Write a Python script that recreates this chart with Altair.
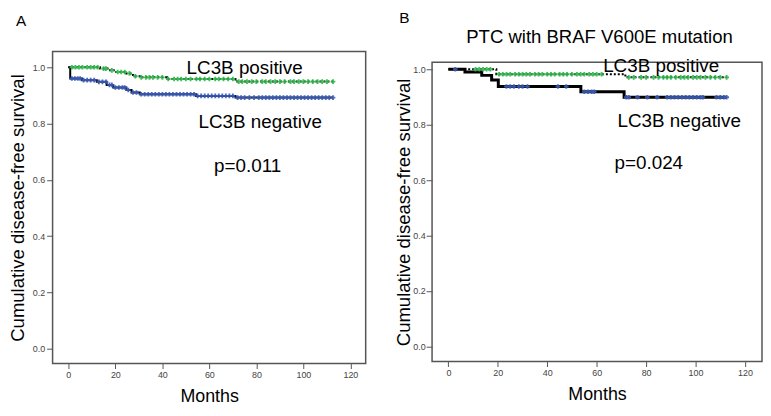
import altair as alt
import pandas as pd

# ---------------- data ----------------
# Panel A: step curves (time in months, cumulative survival)
a_neg_t = [0, 0.8, 5.8, 12.1, 16.3, 19.1, 24.7, 26.9, 30.4, 54.3, 71.1, 112.6]
a_neg_s = [1.0, 0.96, 0.954, 0.948, 0.937, 0.928, 0.919, 0.910, 0.904, 0.898, 0.892, 0.892]
a_pos_t = [0, 13.5, 17.7, 19.8, 24.7, 27.5, 30.4, 42.0, 71.1, 112.6]
a_pos_s = [1.0, 0.995, 0.989, 0.983, 0.978, 0.968, 0.964, 0.958, 0.949, 0.949]
# censor marks
a_neg_c = [1.5, 2.8, 4, 5, 6.5, 8, 9.5, 11, 13, 14.5, 16, 17.5, 18.5, 20, 21.5, 23, 24, 25.5,
           27.5, 29, 31, 32.5, 34, 35.5, 37, 38.5, 40, 41.5, 43, 44.5, 46, 47.5, 49, 50.5, 52,
           53.5, 55, 56.5, 58, 59.5, 61, 62.5, 64, 65.5, 67, 68.5, 70, 72, 73.5, 75, 77, 79,
           81, 82.5, 84, 85.5, 87, 88.5, 90, 91.5, 93, 94.5, 96, 97.5, 99, 100.5, 102, 103.5,
           105, 106.5, 108, 109.5, 111, 112.6]
a_pos_c = [1.5, 3, 4.5, 6, 8, 9.5, 11, 12.5, 15, 16, 18.5, 21, 22.5, 24, 26, 28.5, 31, 33,
           34.5, 36, 38, 40, 42.5, 45, 46.5, 48, 50, 52, 54.5, 56, 58, 60, 62.5, 64, 66, 68,
           70, 72.5, 74, 76, 78, 80, 82.5, 84, 86, 88, 90, 92, 94.5, 96, 98, 100, 102, 104,
           106, 108, 110, 112.6]

# Panel B
b_neg_t = [0, 6.7, 13.5, 17.5, 20.2, 53.6, 71.1, 112.6]
b_neg_s = [1.0, 0.99, 0.978, 0.961, 0.938, 0.919, 0.899, 0.899]
b_pos_t = [0, 19.4, 71.6, 112.6]
b_pos_s = [1.0, 0.982, 0.971, 0.971]
b_neg_c = [2.8, 23.5, 25, 26.5, 28.5, 30, 32, 44.3, 47.7, 55, 56.5, 58, 59, 72, 73, 76.5,
           80.5, 84.5, 88.5, 90, 91.5, 93, 94.5, 96, 97.5, 99, 100.5, 102, 103, 108.5, 110,
           111.5, 112.6]
b_pos_c = [11, 12.5, 14, 15.5, 17, 20.5, 22, 23.5, 25, 27, 28.5, 30, 31.5, 33, 35, 36.5, 38,
           40, 41.5, 43, 45, 46.5, 48, 50, 52, 53.5, 55, 57, 58.5, 60, 62, 73, 75, 78, 80,
           83, 85, 87, 88.5, 90, 92, 94, 95.5, 97, 99, 100.5, 102, 104, 106, 108, 110, 112.6]

x_ticks = [0, 20, 40, 60, 80, 100, 120]
y_ticks = [0.0, 0.2, 0.4, 0.6, 0.8, 1.0]

a_labels = ["LC3B positive", "LC3B negative", "p=0.011"]
a_lab_x = [75, 81.6, 76.3]
a_lab_y = [0.975, 0.784, 0.627]
b_labels = ["LC3B positive", "LC3B negative", "p=0.024"]
b_lab_x = [86.1, 93.4, 81.1]
b_lab_y = [0.99, 0.79, 0.64]

FONT = "Liberation Sans"
GREEN = "#2fb54a"
BLUE = "#3a5cb8"
FRAME = "#555"


def step_value(ts, ss, t):
    v = ss[0]
    for ti, si in zip(ts, ss):
        if ti <= t:
            v = si
    return v


def panel(neg_t, neg_s, pos_t, pos_s, neg_c, pos_c, labels, lab_x, lab_y,
          xdom, ydom, w, h, ext, tpad, lpad, title_txt, title_off, title_dx, neg_width,
          extra=None, yrange=None):
    neg = pd.DataFrame({"t": neg_t, "s": neg_s})
    pos = pd.DataFrame({"t": pos_t, "s": pos_s})
    negc = pd.DataFrame({"t": neg_c, "s": [step_value(neg_t, neg_s, c) for c in neg_c]})
    posc = pd.DataFrame({"t": pos_c, "s": [step_value(pos_t, pos_s, c) for c in pos_c]})
    labs = pd.DataFrame({"t": lab_x, "s": lab_y, "label": labels})

    framed = yrange is not None
    xs = alt.Scale(domain=xdom, nice=False, zero=False)
    if framed:
        ys = alt.Scale(domain=ydom, nice=False, zero=False, range=yrange)
    else:
        ys = alt.Scale(domain=ydom, nice=False, zero=False)
    xax = alt.Axis(values=x_ticks, title="Months", grid=False, domain=False,
                   tickSize=5, tickColor=FRAME, labelPadding=2, labelFontSize=9,
                   labelColor="#444", labelFont=FONT, titleFont=FONT, titleFontSize=18,
                   titleFontWeight="normal", titleColor="black", titlePadding=8)
    yax = alt.Axis(values=y_ticks, format=".1f", title="Cumulative disease-free survival",
                   grid=False, domain=False, tickSize=6, tickColor=FRAME,
                   labelPadding=lpad, labelFontSize=9, labelColor="#444", labelFont=FONT,
                   titleFont=FONT, titleFontSize=18.7, titleFontWeight="normal",
                   titleColor="black", titlePadding=tpad, minExtent=ext, maxExtent=ext)

    neg_line = alt.Chart(neg).mark_line(interpolate="step-after", color="black",
                                        strokeWidth=neg_width).encode(
        x=alt.X("t:Q", scale=xs, axis=xax), y=alt.Y("s:Q", scale=ys, axis=yax))
    ex = alt.X("t:Q", scale=xs)
    ey = alt.Y("s:Q", scale=ys)
    pos_line = alt.Chart(pos).mark_line(interpolate="step-after", color="black",
                                        strokeWidth=2, strokeDash=[2, 2]).encode(x=ex, y=ey)
    neg_pts = alt.Chart(negc).mark_point(shape="cross", filled=True, color=BLUE,
                                         size=22, opacity=0.9).encode(x=ex, y=ey)
    pos_pts = alt.Chart(posc).mark_point(shape="cross", filled=True, color=GREEN,
                                         size=22, opacity=0.9).encode(x=ex, y=ey)
    txt = alt.Chart(labs).mark_text(font=FONT, fontSize=19, color="black",
                                    align="center", baseline="alphabetic").encode(
        x=ex, y=ey, text="label:N")

    layers = []
    if framed:
        # plot frame drawn along the scale-domain edges
        fr = pd.DataFrame({"t": [xdom[0]], "t2": [xdom[1]], "s": [ydom[0]], "s2": [ydom[1]]})
        frame = alt.Chart(fr).mark_rect(filled=False, stroke=FRAME, strokeWidth=1.5).encode(
            x=ex, x2="t2:Q", y=ey, y2="s2:Q")
        layers.append(frame)
    layers += [neg_line, pos_line, neg_pts, pos_pts, txt]
    if extra is not None:
        layers.append(extra)
    props = dict(width=w, height=h,
                 title=alt.TitleParams(title_txt, anchor="start", frame="group", fontSize=15.5,
                                       font=FONT, fontWeight="normal", color="black",
                                       offset=title_off, dx=title_dx))
    if framed:
        props["view"] = alt.ViewConfig(strokeWidth=0)
    return alt.layer(*layers).properties(**props)


# Panel A's plot area starts 11 px above the row origin it shares with panel B
chart_a = panel(a_neg_t, a_neg_s, a_pos_t, a_pos_s, a_neg_c, a_pos_c, a_labels, a_lab_x,
                a_lab_y, [-6.7, 126.5], [-0.053, 1.056], 316, 304, 20, 5, 2, "A", 21, -37, 2,
                yrange=[304, -11])

sub = pd.DataFrame({"label": ["PTC with BRAF V600E mutation"]})
ptc = alt.Chart(sub).mark_text(font=FONT, fontSize=18.7, color="black", align="center",
                               baseline="middle").encode(
    x=alt.value(169), y=alt.value(-26), text="label:N")
chart_b = panel(b_neg_t, b_neg_s, b_pos_t, b_pos_s, b_neg_c, b_pos_c, b_labels, b_lab_x,
                b_lab_y, [-6.6, 126.9], [-0.055, 1.025], 333, 302, 18, 1, 1, "B", 1, -33, 3,
                extra=ptc)

chart = alt.hconcat(chart_a, chart_b, spacing=27).configure(
    padding={"left": 0, "top": 0, "right": 0, "bottom": 0}
).configure_view(stroke=FRAME, strokeWidth=1.5)

chart.save("out.html", embed_options={"renderer": "svg", "actions": False})
